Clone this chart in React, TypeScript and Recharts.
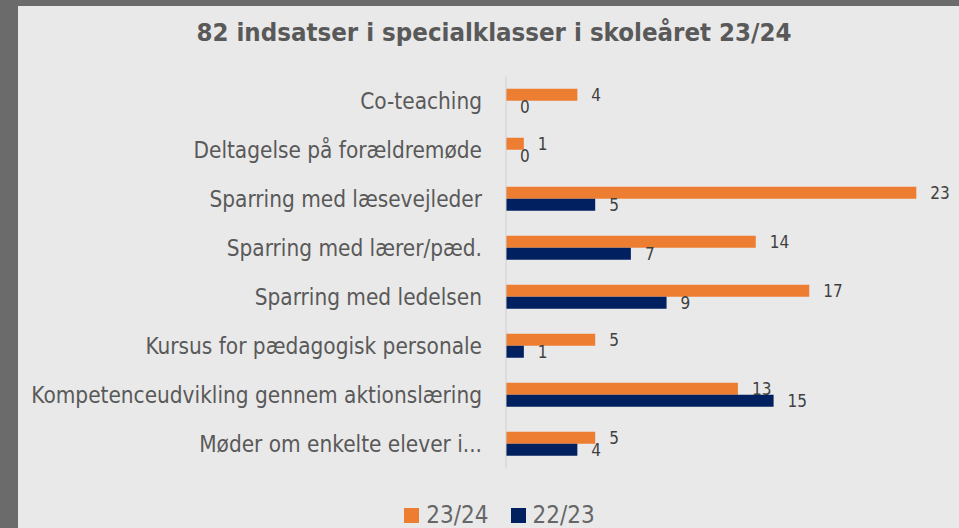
import { BarChart, Bar, XAxis, YAxis, LabelList } from 'recharts'

const categories = [
  'Co-teaching',
  'Deltagelse på forældremøde',
  'Sparring med læsevejleder',
  'Sparring med lærer/pæd.',
  'Sparring med ledelsen',
  'Kursus for pædagogisk personale',
  'Kompetenceudvikling gennem aktionslæring',
  'Møder om enkelte elever i...',
]
const current = [4, 1, 23, 14, 17, 5, 13, 5]   // 23/24
const previous = [0, 0, 5, 7, 9, 1, 15, 4]     // 22/23

const SERIES = [
  { key: 'cur', name: '23/24', color: '#ed7d31' },
  { key: 'prev', name: '22/23', color: '#002060' },
]

const FONT = "'DejaVu Sans Condensed', 'DejaVu Sans', sans-serif"
const TEXT = '#595959'

const data = categories.map((name, i) => ({ name, cur: current[i], prev: previous[i] }))

export default function App() {
  return (
    <div style={{ position: 'absolute', left: 0, top: 0, width: 959, height: 528, background: '#6b6b6b', overflow: 'hidden' }}>
      <div style={{ position: 'absolute', left: 18, top: 6, width: 941, height: 522, background: '#e9e9e9' }}>
        <div style={{
          position: 'absolute', left: 0, top: 11, width: 941, paddingLeft: 11, boxSizing: 'border-box',
          textAlign: 'center', fontFamily: FONT, fontWeight: 'bold', fontSize: 25.6, color: TEXT,
        }}>
          82 indsatser i specialklasser i skoleåret 23/24
        </div>

        <BarChart
          width={941} height={522} data={data} layout="vertical"
          barCategoryGap="25%" barGap={0}
          margin={{ top: 70.5, right: 7, bottom: 59.5, left: 0 }}
        >
          <XAxis type="number" domain={[0, 25]} hide />
          <YAxis
            type="category" dataKey="name" width={488}
            axisLine={{ stroke: '#d0d0d0' }} tickLine={false} tickSize={0} tickMargin={24}
            tick={{ fill: TEXT, fontSize: 22.4, fontFamily: FONT }}
            interval={0}
          />
          {SERIES.map((s) => (
            <Bar key={s.key} dataKey={s.key} name={s.name} fill={s.color} minPointSize={0.01} isAnimationActive={false}>
              <LabelList dataKey={s.key} position="right" offset={14} fill="#404040" fontSize={17} fontFamily={FONT} />
            </Bar>
          ))}
        </BarChart>

        <div style={{ position: 'absolute', left: 0, top: 495, width: 941, display: 'flex', justifyContent: 'center', paddingLeft: 22, boxSizing: 'border-box', fontFamily: FONT, fontSize: 24, color: '#666666' }}>
          {SERIES.map((s) => (
            <div key={s.key} style={{ display: 'flex', alignItems: 'center', margin: '0 11px' }}>
              <span style={{ width: 15, height: 15, background: s.color, display: 'inline-block', marginRight: 7 }} />
              <span>{s.name}</span>
            </div>
          ))}
        </div>
      </div>
    </div>
  )
}
